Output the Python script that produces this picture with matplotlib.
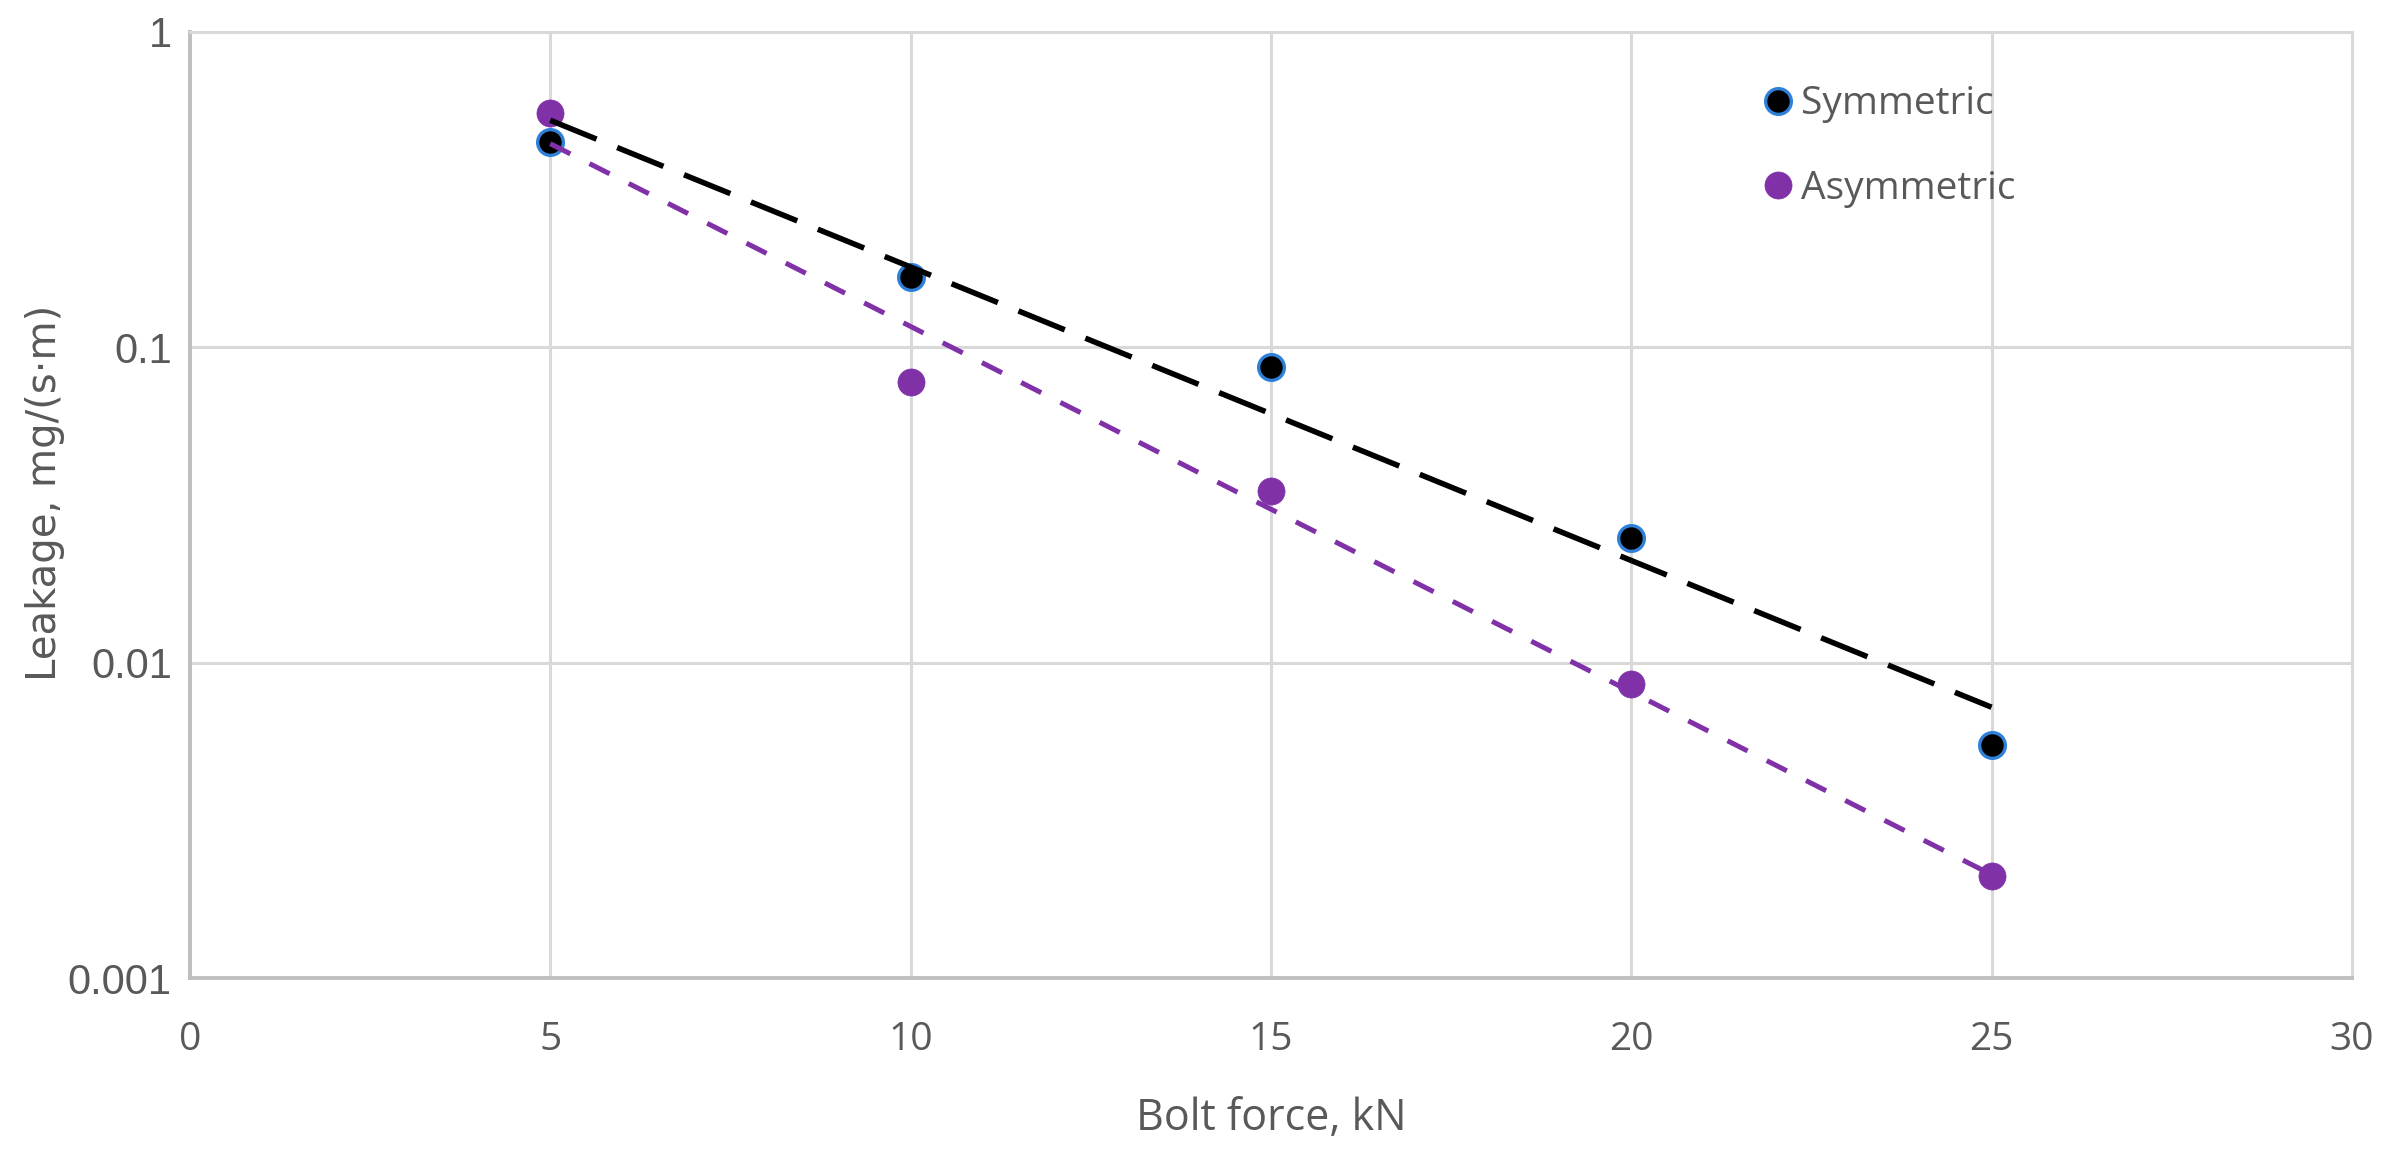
import numpy as np
import matplotlib
matplotlib.use("Agg")
import matplotlib.pyplot as plt
from matplotlib.ticker import FixedLocator, FuncFormatter, NullLocator

# bolt force (kN) and measured leakage, mg/(s*m)
bolt_force = [5, 10, 15, 20, 25]
leak_sym = [0.449, 0.167, 0.0865, 0.0249, 0.00548]
leak_asym = [0.554, 0.0774, 0.0351, 0.00855, 0.00211]

x_ticks = [0, 5, 10, 15, 20, 25, 30]
y_ticks = [0.001, 0.01, 0.1, 1]

purple = "#8031A7"
txt = "#595959"


def exp_trend(x, y):
    # Excel style exponential trendline: straight line in log space
    k, b = np.polyfit(x, np.log(y), 1)
    xs = np.array([min(x), max(x)], dtype=float)
    return xs, np.exp(k * xs + b)


fig = plt.figure(figsize=(23.95, 11.51), dpi=100)
ax = fig.add_axes([0.0793, 0.1503, 0.9027, 0.8219])

ax.plot(bolt_force, leak_sym, "o", ms=18.5, mfc="black", mec="#2F80D8", mew=2.4,
        zorder=3, label="Symmetric")
ax.plot(bolt_force, leak_asym, "o", ms=19.5, mfc=purple, mec=purple, mew=0.5,
        zorder=3, label="Asymmetric")

xs, ys = exp_trend(bolt_force, leak_sym)
ax.plot(xs, ys, color="black", lw=4, dashes=(9, 4), zorder=4)
xs, ys = exp_trend(bolt_force, leak_asym)
ax.plot(xs, ys, color=purple, lw=3.6, dashes=(4.5, 4.3), zorder=4)

ax.set_yscale("log")
ax.set_xlim(0, 30)
ax.set_ylim(0.001, 1)
ax.xaxis.set_major_locator(FixedLocator(x_ticks))
ax.yaxis.set_major_locator(FixedLocator(y_ticks))
ax.yaxis.set_minor_locator(NullLocator())
ax.yaxis.set_major_formatter(FuncFormatter(lambda v, p: "{:g}".format(v)))

ax.grid(True, color="#d9d9d9", lw=2.2)
ax.set_axisbelow(True)
for s in ["top", "right"]:
    ax.spines[s].set_color("#d9d9d9")
    ax.spines[s].set_linewidth(2.2)
for s in ["left", "bottom"]:
    ax.spines[s].set_color("#bfbfbf")
    ax.spines[s].set_linewidth(2.8)

ax.tick_params(length=0)
ax.tick_params(axis="x", pad=31, labelsize=28, labelcolor=txt)
ax.tick_params(axis="y", pad=13, labelsize=30, labelcolor=txt)
for lab in ax.get_xticklabels():
    lab.set_family("Open Sans")
for lab in ax.get_yticklabels():
    lab.set_family("Liberation Sans")

ax.set_xlabel("Bolt force, kN", fontsize=31, color=txt, family="Open Sans", va="center")
ax.xaxis.set_label_coords(0.5, -0.149)
ax.set_ylabel("Leakage, mg/(s\u00b7m)", fontsize=29, color=txt, family="DejaVu Sans",
              va="center")
ax.yaxis.set_label_coords(-0.067, 0.513)

leg = ax.legend(loc="upper left", bbox_to_anchor=(0.721, 0.96), frameon=False,
                prop={"family": "Open Sans", "size": 28}, labelcolor=txt,
                handlelength=0.7, handletextpad=0.25, labelspacing=1.2,
                borderaxespad=0)

plt.savefig("out.png", dpi=100)
